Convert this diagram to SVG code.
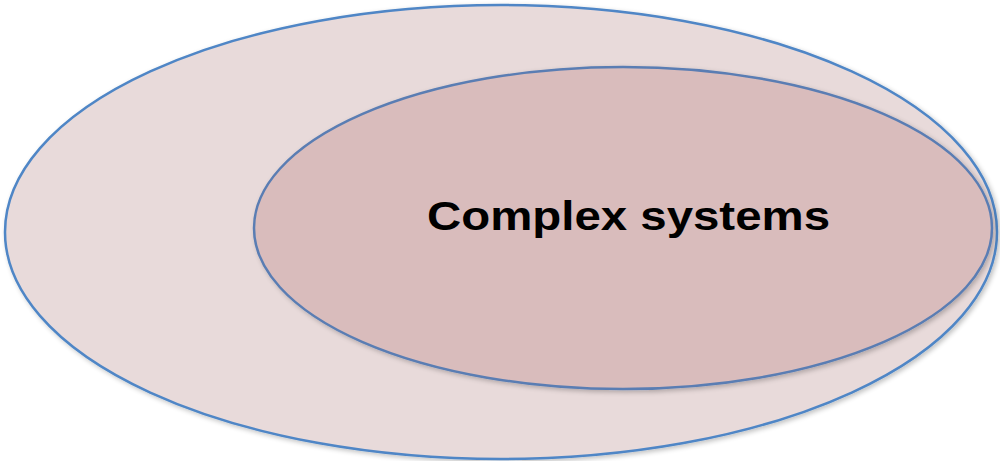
<svg xmlns="http://www.w3.org/2000/svg" width="1000" height="461" viewBox="0 0 1000 461">
  <defs>
    <filter id="soft" x="-5%" y="-5%" width="110%" height="115%">
      <feGaussianBlur in="SourceAlpha" stdDeviation="2.5"/>
      <feOffset dx="1.5" dy="2" result="b"/>
      <feComponentTransfer><feFuncA type="linear" slope="0.25"/></feComponentTransfer>
      <feMerge><feMergeNode/><feMergeNode in="SourceGraphic"/></feMerge>
    </filter>
  </defs>
  <style>
    .outer { fill: #e8dada; stroke: #4f86c6; stroke-width: 2.5; }
    .inner { fill: #d9bcbc; stroke: #5a7db3; stroke-width: 2.5; }
    .label { font-family: "Liberation Sans", Arial, sans-serif; font-weight: bold; font-size: 41px; fill: #000; }
  </style>
  <rect width="1000" height="461" fill="#ffffff"/>
  <g id="systems">
    <ellipse class="outer" cx="501" cy="232" rx="496" ry="227" filter="url(#soft)"/>
  </g>
  <g id="complex-systems">
    <ellipse class="inner" cx="623" cy="228" rx="369" ry="161" filter="url(#soft)"/>
    <text class="label" x="427" y="230" textLength="403" lengthAdjust="spacingAndGlyphs">Complex systems</text>
  </g>
  <g id="connectors"/>
</svg>
